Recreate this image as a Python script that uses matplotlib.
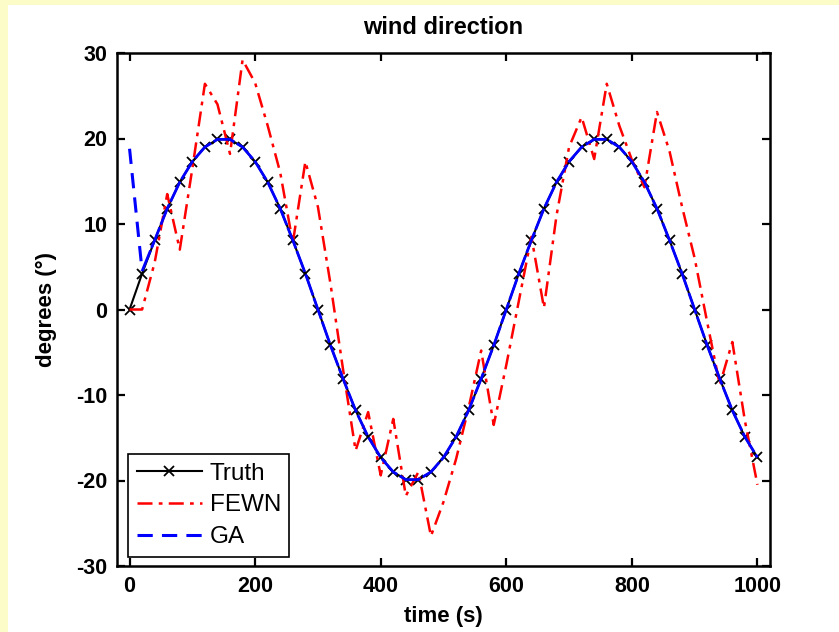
import numpy as np
import matplotlib
matplotlib.use("Agg")
import matplotlib.pyplot as plt
from matplotlib.lines import Line2D

# sample times (s), every 20 s
time_s = [0, 20, 40, 60, 80, 100, 120, 140, 160, 180,
          200, 220, 240, 260, 280, 300, 320, 340, 360, 380,
          400, 420, 440, 460, 480, 500, 520, 540, 560, 580,
          600, 620, 640, 660, 680, 700, 720, 740, 760, 780,
          800, 820, 840, 860, 880, 900, 920, 940, 960, 980, 1000]

# true wind direction (deg)
truth = [0.0, 4.2, 8.1, 11.8, 14.9, 17.3, 19.0, 19.9, 19.9, 19.0,
         17.3, 14.9, 11.8, 8.1, 4.2, 0.0, -4.2, -8.1, -11.8, -14.9,
         -17.3, -19.0, -19.9, -19.9, -19.0, -17.3, -14.9, -11.8, -8.1, -4.2,
         0.0, 4.2, 8.1, 11.8, 14.9, 17.3, 19.0, 19.9, 19.9, 19.0,
         17.3, 14.9, 11.8, 8.1, 4.2, 0.0, -4.2, -8.1, -11.8, -14.9, -17.3]

# FEWN estimate (deg)
fewn = [0.0, 0.0, 5.5, 13.5, 7.0, 16.5, 26.4, 24.0, 18.2, 29.2,
        26.5, 21.5, 16.0, 7.8, 17.3, 12.0, 3.0, -7.0, -16.5, -12.0,
        -19.4, -12.8, -21.8, -19.0, -26.5, -22.5, -17.5, -11.5, -4.8, -13.5,
        -6.5, 1.0, 8.5, 0.2, 11.0, 19.0, 22.5, 17.6, 26.4, 21.5,
        17.5, 14.3, 23.1, 18.5, 12.0, 6.0, -1.5, -8.8, -3.8, -13.0, -20.5]

# GA estimate (deg)
ga = [18.8, 4.5, 8.1, 11.8, 14.9, 17.3, 19.0, 19.9, 19.9, 19.0,
      17.3, 14.9, 11.8, 8.1, 4.2, 0.0, -4.2, -8.1, -11.8, -14.9,
      -17.3, -19.0, -19.9, -19.9, -19.0, -17.3, -14.9, -11.8, -8.1, -4.2,
      0.0, 4.2, 8.1, 11.8, 14.9, 17.3, 19.0, 19.9, 19.9, 19.0,
      17.3, 14.9, 11.8, 8.1, 4.2, 0.0, -4.2, -8.1, -11.8, -14.9, -17.3]

x_ticks = [0, 200, 400, 600, 800, 1000]
y_ticks = [-30, -20, -10, 0, 10, 20, 30]

plt.rcParams['font.family'] = ['Liberation Sans', 'DejaVu Sans']
plt.rcParams['font.weight'] = 'bold'
plt.rcParams['axes.unicode_minus'] = False

fig = plt.figure(figsize=(8.39, 6.32), dpi=100)
fig.patch.set_facecolor('white')

# pale yellow frame strips (left and top) from the slide background
fig.patches.append(plt.Rectangle((0, 0), 8 / 839, 1, transform=fig.transFigure,
                                 facecolor='#fcfcc8', edgecolor='none'))
fig.patches.append(plt.Rectangle((0, 1 - 5 / 632), 1, 5 / 632, transform=fig.transFigure,
                                 facecolor='#fcfcc8', edgecolor='none'))

ax = fig.add_axes([117 / 839, 66 / 632, 653 / 839, 513 / 632])

ax.plot(time_s, truth, color='black', lw=1.5, marker='x', markersize=7,
        markeredgewidth=1.3, label='Truth', zorder=2)
ax.plot(time_s, fewn, color='red', lw=1.8, linestyle=(0, (6, 2.5, 1.5, 2.5)),
        label='FEWN', zorder=3)
# GA: first long segment shows clear dashes, the rest looks almost solid
ax.plot(time_s[:2], ga[:2], color='blue', lw=2.2, linestyle=(0, (5, 3)), zorder=4)
ax.plot(time_s[1:], ga[1:], color='blue', lw=2.0, linestyle=(0, (8, 1)), zorder=4)

ax.set_xlim(-20, 1020)
ax.set_ylim(-30, 30)
ax.set_xticks(x_ticks)
ax.set_yticks(y_ticks)
ax.tick_params(direction='in', length=6, width=1.6, top=True, right=True,
               labelsize=15.5, pad=7)
for s in ax.spines.values():
    s.set_linewidth(1.8)

ax.set_title('wind direction', fontsize=17, fontweight='bold', pad=14)
ax.set_xlabel('time (s)', fontsize=16, fontweight='bold', labelpad=7)
ax.set_ylabel('degrees (°)', fontsize=16, fontweight='bold', labelpad=14)

handles = [
    Line2D([], [], color='black', lw=1.5, marker='x', markersize=7, markeredgewidth=1.3),
    Line2D([], [], color='red', lw=1.8, linestyle=(0, (6, 2.5, 1.5, 2.5))),
    Line2D([], [], color='blue', lw=2.2, linestyle=(0, (5, 3))),
]
leg = ax.legend(handles, ['Truth', 'FEWN', 'GA'], loc='upper left',
                bbox_to_anchor=(0.017, 0.218), borderaxespad=0, fancybox=False,
                edgecolor='black', framealpha=1, fontsize=17.5, handlelength=2.7,
                handletextpad=0.3, labelspacing=0.4, borderpad=0.35, numpoints=1)
leg.get_frame().set_linewidth(1.2)
for t in leg.get_texts():
    t.set_fontweight('normal')

fig.savefig('out.png', dpi=100)
